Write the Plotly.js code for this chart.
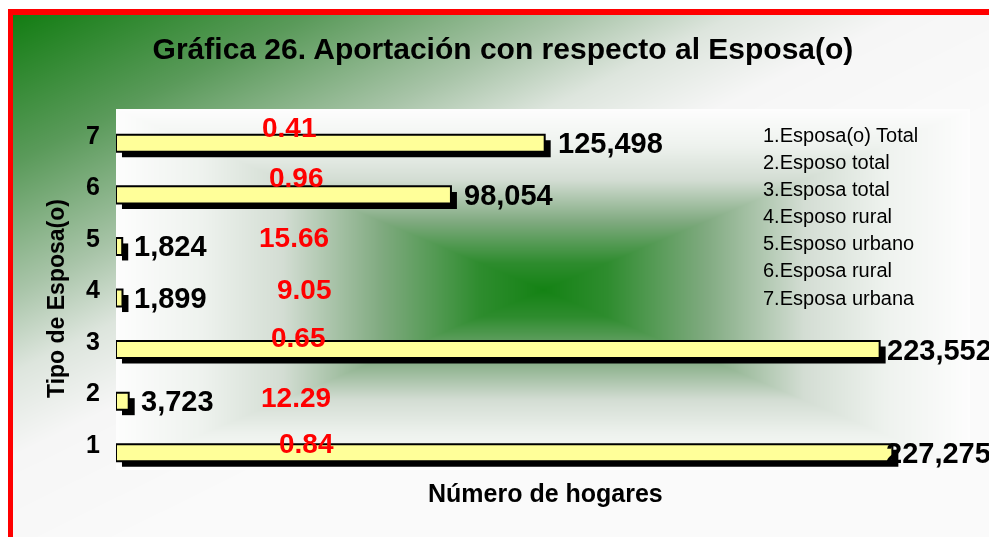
<!DOCTYPE html>
<html><head><meta charset="utf-8">
<script src="https://cdn.plot.ly/plotly-3.0.1.min.js"></script>
<style>
html,body{margin:0;padding:0;background:#fff;width:989px;height:537px;overflow:hidden;}
#bg{position:absolute;left:13px;top:15px;}
#frameTop{position:absolute;left:8px;top:9px;width:981px;height:6px;background:#ff0000;}
#frameLeft{position:absolute;left:8px;top:9px;width:5px;height:528px;background:#ff0000;}
#chart{position:absolute;left:0;top:0;width:989px;height:537px;}
</style></head>
<body>
<canvas id="bg" width="976" height="522"></canvas>
<div id="frameTop"></div>
<div id="frameLeft"></div>
<div id="chart"></div>
<script>
// ---- data ----
const categories = [1, 2, 3, 4, 5, 6, 7];
const tickLabels = ['1', '2', '3', '4', '5', '6', '7'];
const hogares = [227275, 3723, 223552, 1899, 1824, 98054, 125498];
const porcentajes = [0.84, 12.29, 0.65, 9.05, 15.66, 0.96, 0.41];
const leyenda = ['1.Esposa(o) Total', '2.Esposo total', '3.Esposa total', '4.Esposo rural',
                 '5.Esposo urbano', '6.Esposa rural', '7.Esposa urbana'];
const xTitle = 'Número de hogares';
const yTitle = 'Tipo de Esposa(o)';
const chartTitle = 'Gráfica 26. Aportación con respecto al Esposa(o)';

// ---- styling constants ----
const FONT = '"Liberation Sans", Arial, sans-serif';
const W = 989, H = 537;
const M = {l: 116, r: 19, t: 109, b: 67};
const XMAX = 250000;
const plotW = W - M.l - M.r, plotH = H - M.t - M.b;
const shadowBase = 1750;
const valShift = [-8, 10, 5, 10, 10, 11, 11];
const pctX = 52000;
const pctXShift = [13, 2, 5, 11, 0, 3, -4];
const pctYShift = [1, -5, 3.5, 0.5, 0, 8.4, 6.8];
const legendY = [135, 162, 189, 216, 243, 270, 298];

function lerpStops(stops, t) {
  if (t <= stops[0][0]) return stops[0][1];
  for (let i = 1; i < stops.length; i++) {
    if (t <= stops[i][0]) {
      const a = stops[i-1], b = stops[i];
      const f = (t - a[0]) / (b[0] - a[0]);
      return [0,1,2].map(k => a[1][k] + (b[1][k] - a[1][k]) * f);
    }
  }
  return stops[stops.length-1][1];
}

// chart-area diagonal gradient
(function(){
  const c = document.getElementById('bg');
  const ctx = c.getContext('2d');
  const img = ctx.createImageData(c.width, c.height);
  const stops = [[0,[19,125,19]],[0.35,[90,154,90]],[0.66,[168,196,168]],[0.85,[221,229,221]],[1.05,[246,246,246]],[1.4,[250,250,250]]];
  for (let y = 0; y < c.height; y++) for (let x = 0; x < c.width; x++) {
    const t = x/850 + y/420;
    const col = lerpStops(stops, t);
    const i = (y*c.width + x)*4;
    img.data[i] = col[0]; img.data[i+1] = col[1]; img.data[i+2] = col[2]; img.data[i+3] = 255;
  }
  ctx.putImageData(img, 0, 0);
})();

// plot-area rectangular (from centre) gradient
function plotGradient() {
  const c = document.createElement('canvas');
  c.width = plotW; c.height = plotH;
  const ctx = c.getContext('2d');
  const img = ctx.createImageData(c.width, c.height);
  const stops = [[0,[20,130,20]],[0.15,[46,140,46]],[0.38,[128,170,128]],[0.61,[211,221,211]],[0.8,[238,242,238]],[1,[253,253,253]]];
  const hw = c.width/2, hh = c.height/2;
  for (let y = 0; y < c.height; y++) for (let x = 0; x < c.width; x++) {
    const t = Math.max(Math.abs(x - hw)/hw, Math.abs(y - hh)/hh);
    const col = lerpStops(stops, t);
    const i = (y*c.width + x)*4;
    img.data[i] = col[0]; img.data[i+1] = col[1]; img.data[i+2] = col[2]; img.data[i+3] = 255;
  }
  ctx.putImageData(img, 0, 0);
  return c.toDataURL('image/png');
}

const shadow = {
  type: 'bar', orientation: 'h', x: hogares, y: categories, base: shadowBase,
  offset: -0.437, width: 0.33,
  marker: {color: '#000000', line: {width: 0}},
  hoverinfo: 'skip', showlegend: false
};
const bars = {
  type: 'bar', orientation: 'h', x: hogares, y: categories,
  offset: -0.33, width: 0.33,
  marker: {color: '#ffff99', line: {color: '#000000', width: 2}},
  hoverinfo: 'skip', showlegend: false
};

const annotations = [];
categories.forEach((c, i) => {
  annotations.push({
    x: hogares[i], y: c, xref: 'x', yref: 'y', text: hogares[i].toLocaleString('en-US'),
    showarrow: false, xanchor: 'left', yanchor: 'middle', xshift: valShift[i], yshift: -8.5,
    font: {family: FONT, size: 29, color: '#000000', weight: 'bold'}
  });
  annotations.push({
    x: pctX, y: c, xref: 'x', yref: 'y', text: porcentajes[i].toFixed(2),
    showarrow: false, xanchor: 'center', yanchor: 'middle', xshift: pctXShift[i], yshift: pctYShift[i],
    font: {family: FONT, size: 28, color: '#ff0000', weight: 'bold'}
  });
});
leyenda.forEach((txt, i) => {
  annotations.push({
    x: (761 - M.l)/plotW, y: (H - M.b - legendY[i])/plotH, xref: 'paper', yref: 'paper',
    text: txt, showarrow: false, xanchor: 'left', yanchor: 'middle',
    font: {family: FONT, size: 20, color: '#000000'}
  });
});
// axis titles placed as annotations for exact positioning
annotations.push({
  x: (545 - M.l)/plotW, y: -(493 - (H - M.b))/plotH, xref: 'paper', yref: 'paper',
  text: xTitle, showarrow: false, xanchor: 'center', yanchor: 'middle',
  font: {family: FONT, size: 25, color: '#000000', weight: 'bold'}
});
annotations.push({
  x: -(M.l - 56)/plotW, y: (H - M.b - 299)/plotH, xref: 'paper', yref: 'paper',
  text: yTitle, textangle: -90, showarrow: false, xanchor: 'center', yanchor: 'middle',
  font: {family: FONT, size: 23, color: '#000000', weight: 'bold'}
});

const layout = {
  width: W, height: H,
  margin: M,
  paper_bgcolor: 'rgba(0,0,0,0)', plot_bgcolor: 'rgba(0,0,0,0)',
  barmode: 'overlay',
  title: {text: chartTitle,
          font: {family: FONT, size: 30, color: '#000000', weight: 'bold'},
          xref: 'container', yref: 'container', x: 503/W, y: 1 - 48/H, xanchor: 'center', yanchor: 'middle'},
  xaxis: {range: [0, XMAX], showticklabels: false, showgrid: false, zeroline: false, showline: false, ticks: ''},
  yaxis: {range: [0.5, 7.5], tickvals: categories, ticktext: tickLabels, showgrid: false, zeroline: false,
          showline: false, ticks: '', ticklabelstandoff: 15,
          tickfont: {family: FONT, size: 25, color: '#000000', weight: 'bold'}},
  images: [{source: plotGradient(), xref: 'paper', yref: 'paper', x: 0, y: 1, sizex: 1, sizey: 1,
            xanchor: 'left', yanchor: 'top', sizing: 'stretch', layer: 'below'}],
  annotations: annotations,
  showlegend: false
};

Plotly.newPlot('chart', [shadow, bars], layout, {displayModeBar: false, staticPlot: true});
</script>
</body></html>
